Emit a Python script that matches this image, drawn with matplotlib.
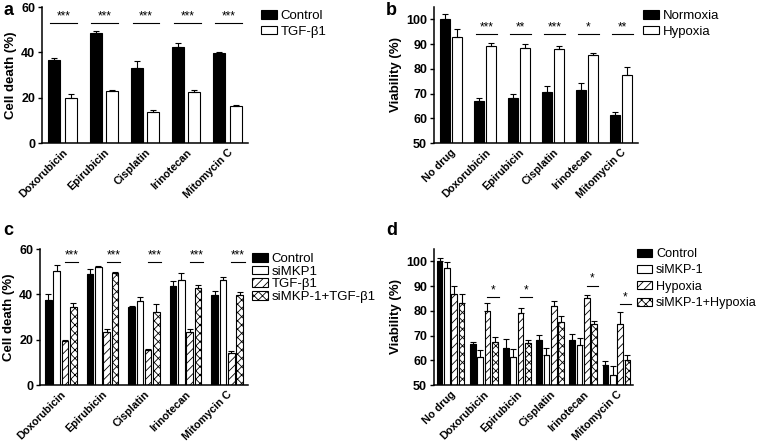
import numpy as np
import matplotlib
matplotlib.use("Agg")
import matplotlib.pyplot as plt

plt.rcParams['font.family'] = ['Liberation Sans', 'DejaVu Sans']
plt.rcParams['hatch.linewidth'] = 0.6

#%% data
drugs = ["Doxorubicin", "Epirubicin", "Cisplatin", "Irinotecan", "Mitomycin C"]
drugs_nd = ["No drug"] + drugs

# a
a_labels = ["Control", "TGF-β1"]
a_ctrl = [36.5, 48.5, 33.0, 42.5, 39.8]
a_ctrl_err = [1.0, 0.7, 3.0, 1.5, 0.5]
a_tgf = [20.0, 23.0, 13.5, 22.7, 16.5]
a_tgf_err = [1.5, 0.4, 1.2, 0.5, 0.3]
a_sig = ["***", "***", "***", "***", "***"]

# b
b_labels = ["Normoxia", "Hypoxia"]
b_norm = [100.0, 67.0, 68.0, 70.7, 71.3, 61.2]
b_norm_err = [2.0, 1.0, 1.8, 2.3, 3.0, 1.2]
b_hyp = [93.0, 89.3, 88.3, 88.0, 85.5, 77.7]
b_hyp_err = [3.0, 1.0, 1.8, 1.3, 1.0, 3.0]
b_sig = ["", "***", "**", "***", "*", "**"]

# c
c_labels = ["Control", "siMKP1", "TGF-β1", "siMKP-1+TGF-β1"]
c_ctrl = [37.5, 49.0, 34.2, 43.8, 39.5]
c_ctrl_err = [2.5, 2.0, 0.5, 2.0, 2.0]
c_simkp = [50.5, 52.2, 37.2, 46.3, 46.2]
c_simkp_err = [2.5, 0.4, 1.8, 3.0, 1.3]
c_tgf = [19.5, 23.2, 15.3, 23.2, 14.0]
c_tgf_err = [0.3, 1.3, 0.7, 1.3, 0.8]
c_both = [34.2, 49.2, 32.3, 43.0, 39.5]
c_both_err = [1.8, 0.5, 3.5, 1.0, 1.5]
c_sig = ["***", "***", "***", "***", "***"]

# d
d_labels = ["Control", "siMKP-1", "Hypoxia", "siMKP-1+Hypoxia"]
d_ctrl = [100.0, 66.7, 65.0, 68.0, 68.0, 58.0]
d_ctrl_err = [1.5, 0.5, 3.5, 2.3, 2.5, 1.8]
d_simkp = [97.3, 61.5, 61.5, 62.0, 66.0, 54.2]
d_simkp_err = [2.3, 2.5, 3.0, 2.8, 3.0, 3.5]
d_hyp = [87.0, 80.0, 79.0, 81.8, 85.0, 74.5]
d_hyp_err = [3.0, 3.0, 2.0, 2.0, 1.5, 5.0]
d_both = [83.2, 67.2, 66.8, 75.5, 74.5, 60.0]
d_both_err = [3.5, 2.2, 1.2, 2.5, 1.2, 2.0]
d_sig = ["", "*", "*", "", "*", "*"]
d_sig_y = [0, 85.5, 85.5, 0, 90.2, 82.8]

#%% helpers
W, H = 760, 441
fig = plt.figure(figsize=(W / 100, H / 100), dpi=100)

def px_axes(left, top, right, bottom):
    return fig.add_axes([left / W, 1 - bottom / H, (right - left) / W, (bottom - top) / H])

styles = [dict(color="black", hatch=None),
          dict(color="white", hatch=None),
          dict(color="white", hatch="////"),
          dict(color="white", hatch="xxxx")]

def draw_bars(ax, names, series, errs, offsets, width, labels, ylim, yticks, ylabel):
    x = np.arange(len(names))
    handles = []
    for i, (vals, err) in enumerate(zip(series, errs)):
        st = styles[i]
        b = ax.bar(x + offsets[i], np.array(vals) - ylim[0], width, bottom=ylim[0],
                   color=st["color"], edgecolor="black", hatch=st["hatch"], lw=0.8,
                   label=labels[i], zorder=2)
        ax.errorbar(x + offsets[i], vals, yerr=[np.zeros(len(err)), err], fmt="none",
                    ecolor="black", elinewidth=0.8, capsize=2, capthick=0.8, zorder=3)
        handles.append(b)
    ax.set_xlim(-0.5, len(names) - 0.5)
    ax.set_ylim(*ylim)
    ax.set_yticks(yticks)
    ax.set_xticks(x)
    ax.set_xticklabels(names, rotation=45, ha="right", rotation_mode="anchor",
                       fontsize=7.8, fontweight="bold")
    for t in ax.get_yticklabels():
        t.set_fontsize(9)
        t.set_fontweight("bold")
    ax.tick_params(axis="x", length=0, pad=3)
    ax.tick_params(axis="y", length=3, width=1, direction="out", pad=2)
    ax.spines[["top", "right"]].set_visible(False)
    ax.spines[["left", "bottom"]].set_linewidth(1.1)
    ax.set_ylabel(ylabel, fontsize=9.5, fontweight="bold", labelpad=3)
    return handles

def draw_sig(ax, sig, y, x0, x1):
    for i, s in enumerate(sig):
        if not s:
            continue
        yy = y[i] if np.ndim(y) else y
        ax.plot([i + x0, i + x1], [yy, yy], color="black", lw=0.8)
        ax.text(i + (x0 + x1) / 2, yy + (ax.get_ylim()[1] - ax.get_ylim()[0]) * 0.005, s,
                ha="center", va="bottom", fontsize=8.5)

def add_legend(ax, handles, labels, x, y, spacing=0.3, size=9.5):
    fig.legend(handles, labels, loc="upper left", bbox_to_anchor=(x / W, 1 - y / H),
               frameon=False, fontsize=size, handlelength=1.2, handleheight=0.6,
               handletextpad=0.3, labelspacing=spacing, borderpad=0, borderaxespad=0)

#%% panel a
ax = px_axes(42, 7, 248, 143)
h = draw_bars(ax, drugs, [a_ctrl, a_tgf], [a_ctrl_err, a_tgf_err], [-0.2, 0.2], 0.29,
              a_labels, (0, 60), [0, 20, 40, 60], "Cell death (%)")
draw_sig(ax, a_sig, 53, -0.3, 0.35)
add_legend(ax, h, a_labels, 261, 10)

#%% panel b
ax = px_axes(434, 7, 638, 143)
h = draw_bars(ax, drugs_nd, [b_norm, b_hyp], [b_norm_err, b_hyp_err], [-0.18, 0.18], 0.28,
              b_labels, (50, 105), [50, 60, 70, 80, 90, 100], "Viability (%)")
draw_sig(ax, b_sig, 94.2, -0.26, 0.35)
add_legend(ax, h, b_labels, 643, 10)

#%% panel c
ax = px_axes(40, 249, 248, 385)
h = draw_bars(ax, drugs, [c_ctrl, c_simkp, c_tgf, c_both],
              [c_ctrl_err, c_simkp_err, c_tgf_err, c_both_err],
              [-0.3, -0.1, 0.1, 0.3], 0.16,
              c_labels, (0, 60), [0, 20, 40, 60], "Cell death (%)")
draw_sig(ax, c_sig, 54.1, 0.1, 0.42)
add_legend(ax, h, c_labels, 252, 253, spacing=0.05)

#%% panel d
ax = px_axes(434, 249, 633, 385)
h = draw_bars(ax, drugs_nd, [d_ctrl, d_simkp, d_hyp, d_both],
              [d_ctrl_err, d_simkp_err, d_hyp_err, d_both_err],
              [-0.33, -0.11, 0.11, 0.33], 0.17,
              d_labels, (50, 105), [50, 60, 70, 80, 90, 100], "Viability (%)")
draw_sig(ax, d_sig, d_sig_y, 0.1, 0.45)
add_legend(ax, h, d_labels, 637, 248, spacing=0.35, size=9.1)

#%% panel letters
for lab, (lx, ly) in zip("abcd", [(3, 2), (386, 2), (3, 222), (386, 222)]):
    fig.text(lx / W, 1 - ly / H, lab, fontsize=13, fontweight="bold", va="top", ha="left")

fig.savefig("out.png", dpi=100)
